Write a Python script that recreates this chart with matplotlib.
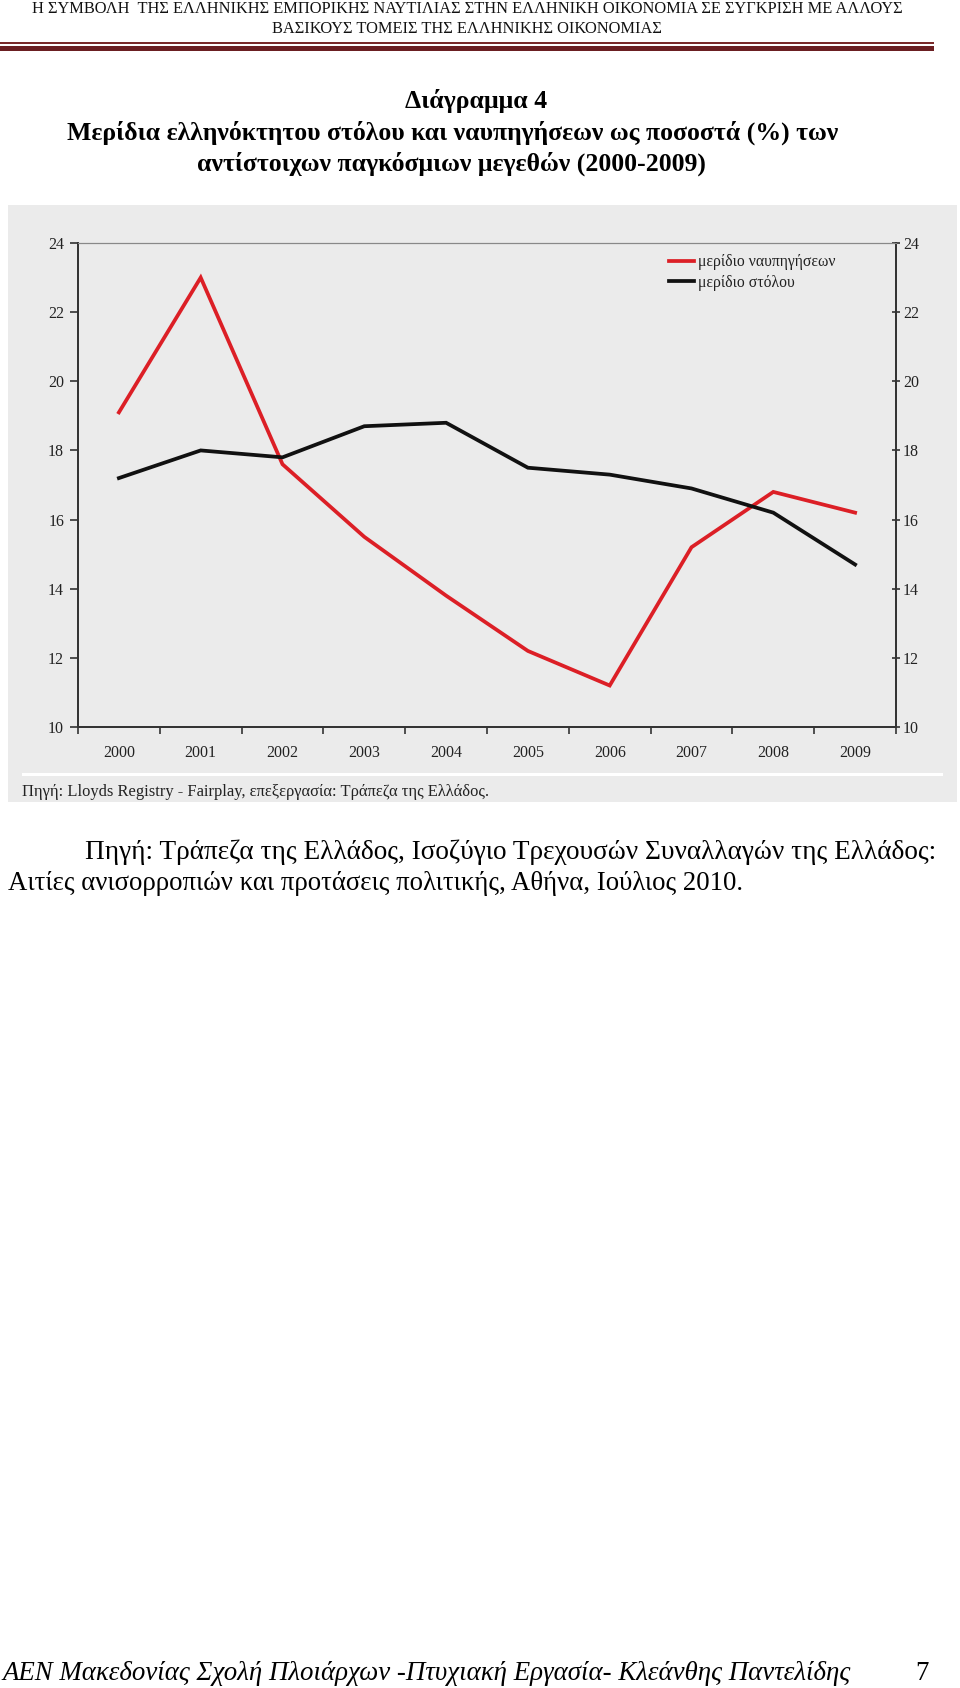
import matplotlib
matplotlib.use('Agg')
import matplotlib.pyplot as plt
import matplotlib.patches as patches

W, H = 960, 1688
SERIF = ['Liberation Serif', 'DejaVu Serif']

years = ['2000', '2001', '2002', '2003', '2004', '2005', '2006', '2007', '2008', '2009']
newbuild_share = [19.1, 23.0, 17.6, 15.5, 13.8, 12.2, 11.2, 15.2, 16.8, 16.2]
fleet_share = [17.2, 18.0, 17.8, 18.7, 18.8, 17.5, 17.3, 16.9, 16.2, 14.7]
y_ticks = [10, 12, 14, 16, 18, 20, 22, 24]
legend_labels = ['μερίδιο ναυπηγήσεων', 'μερίδιο στόλου']


def px(size):
    # pixel height -> points at dpi 100
    return size * 72 / 100


def ftext(x, y, s, **kw):
    kw.setdefault('family', SERIF)
    fig.text(x / W, 1 - y / H, s, **kw)


fig = plt.figure(figsize=(W / 100, H / 100), dpi=100)
fig.patch.set_facecolor('white')

# ---- page header ----
ftext(467, 9, 'Η ΣΥΜΒΟΛΗ  ΤΗΣ ΕΛΛΗΝΙΚΗΣ ΕΜΠΟΡΙΚΗΣ ΝΑΥΤΙΛΙΑΣ ΣΤΗΝ ΕΛΛΗΝΙΚΗ ΟΙΚΟΝΟΜΙΑ ΣΕ ΣΥΓΚΡΙΣΗ ΜΕ ΑΛΛΟΥΣ',
      ha='center', va='center', fontsize=px(16.4), color='#111111')
ftext(467, 29, 'ΒΑΣΙΚΟΥΣ ΤΟΜΕΙΣ ΤΗΣ ΕΛΛΗΝΙΚΗΣ ΟΙΚΟΝΟΜΙΑΣ',
      ha='center', va='center', fontsize=px(16.4), color='#111111')
fig.add_artist(patches.Rectangle((0, 1 - 44 / H), 934 / W, 1.5 / H, transform=fig.transFigure,
                                 facecolor='#7a2a2a', edgecolor='none'))
fig.add_artist(patches.Rectangle((0, 1 - 51 / H), 934 / W, 5 / H, transform=fig.transFigure,
                                 facecolor='#6b1f22', edgecolor='none'))

# ---- title ----
ftext(476, 101, 'Διάγραμμα 4', ha='center', va='center', fontsize=px(25.7), fontweight='bold')
ftext(453, 133, 'Μερίδια ελληνόκτητου στόλου και ναυπηγήσεων ως ποσοστά (%) των',
      ha='center', va='center', fontsize=px(25.7), fontweight='bold')
ftext(451, 164, 'αντίστοιχων παγκόσμιων μεγεθών (2000-2009)',
      ha='center', va='center', fontsize=px(25.7), fontweight='bold')

# ---- gray chart panel ----
fig.add_artist(patches.Rectangle((8 / W, 1 - 802 / H), 949 / W, 597 / H, transform=fig.transFigure,
                                 facecolor='#ebebeb', edgecolor='none', zorder=0))
fig.add_artist(patches.Rectangle((22 / W, 1 - 776 / H), 921 / W, 3 / H, transform=fig.transFigure,
                                 facecolor='white', edgecolor='none', zorder=1))

ax = fig.add_axes([78 / W, 1 - 727 / H, (896 - 78) / W, (727 - 243) / H])
ax.set_facecolor('#ebebeb')
x = list(range(len(years)))
ax.plot(x, newbuild_share, color='#dc1f26', lw=2.7, label=legend_labels[0], solid_joinstyle='miter')
ax.plot(x, fleet_share, color='#111111', lw=2.7, label=legend_labels[1], solid_joinstyle='miter')
ax.set_xlim(-0.5, 9.5)
ax.set_ylim(10, 24)
ax.set_yticks(y_ticks)
ax.set_yticklabels([str(t) for t in y_ticks], family=SERIF, fontsize=px(16), color='#222222')
ax.set_xticks(x)
ax.set_xticklabels(years, family=SERIF, fontsize=px(16), color='#222222')
ax.tick_params(axis='x', length=0, pad=13)
ax.set_xticks([i + 0.5 for i in range(-1, 10)], minor=True)
ax.tick_params(axis='x', which='minor', length=5, direction='out', color='#333333', width=1.2)
ax.tick_params(axis='y', length=6, direction='out', color='#333333', width=1.2, pad=4)

ax2 = ax.twinx()
ax2.set_ylim(10, 24)
ax2.set_yticks(y_ticks)
ax2.set_yticklabels([str(t) for t in y_ticks], family=SERIF, fontsize=px(16), color='#222222')
ax2.tick_params(axis='y', length=6, direction='inout', color='#333333', width=1.2, pad=2)

for a in (ax, ax2):
    a.spines['left'].set_color('#333333')
    a.spines['left'].set_linewidth(1.3)
    a.spines['right'].set_color('#333333')
    a.spines['right'].set_linewidth(1.3)
    a.spines['bottom'].set_color('#333333')
    a.spines['bottom'].set_linewidth(1.3)
    a.spines['top'].set_color('#888888')
    a.spines['top'].set_linewidth(0.8)

leg = ax.legend(loc='upper left', bbox_to_anchor=(0.715, 0.99), frameon=False,
                prop={'family': SERIF, 'size': px(15.8)}, handlelength=1.6, handletextpad=0.2,
                labelspacing=0.3, borderaxespad=0)
for t in leg.get_texts():
    t.set_color('#222222')

ftext(22, 792, 'Πηγή: Lloyds Registry - Fairplay, επεξεργασία: Τράπεζα της Ελλάδος.',
      ha='left', va='center', fontsize=px(16.5), color='#222222')

# ---- caption ----
ftext(85, 852, 'Πηγή: Τράπεζα της Ελλάδος, Ισοζύγιο Τρεχουσών Συναλλαγών της Ελλάδος:',
      ha='left', va='center', fontsize=px(27.2))
ftext(8, 883, 'Αιτίες ανισορροπιών και προτάσεις πολιτικής, Αθήνα, Ιούλιος 2010.',
      ha='left', va='center', fontsize=px(26.8))

# ---- footer ----
ftext(2, 1674, 'ΑΕΝ Μακεδονίας Σχολή Πλοιάρχων -Πτυχιακή Εργασία- Κλεάνθης Παντελίδης',
      ha='left', va='center', fontsize=px(26.9), style='italic')
ftext(915, 1674, '7', ha='left', va='center', fontsize=px(26.9))

fig.savefig('out.png', dpi=100)
